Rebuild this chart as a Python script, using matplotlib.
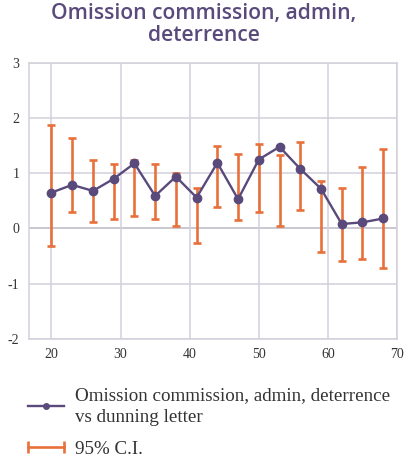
import matplotlib
matplotlib.use("Agg")
import matplotlib.pyplot as plt
from matplotlib.lines import Line2D
from matplotlib.legend_handler import HandlerLine2D
import numpy as np

# Age groups and estimated effects
ages = [20, 23, 26, 29, 32, 35, 38, 41, 44, 47, 50, 53, 56, 59, 62, 65, 68]
effect = [0.65, 0.79, 0.68, 0.90, 1.18, 0.59, 0.94, 0.56, 1.19, 0.53, 1.25,
          1.48, 1.08, 0.72, 0.08, 0.11, 0.18]
ci_low = [-0.32, 0.30, 0.12, 0.17, 0.23, 0.17, 0.05, -0.26, 0.39, 0.15, 0.30,
          0.05, 0.34, -0.42, -0.59, -0.55, -0.72]
ci_high = [1.88, 1.64, 1.25, 1.17, 1.25, 1.17, 1.00, 0.74, 1.50, 1.35, 1.53,
           1.34, 1.57, 0.86, 0.74, 1.11, 1.44]

x_ticks = [20, 30, 40, 50, 60, 70]
y_ticks = [-2, -1, 0, 1, 2, 3]

title = "Omission commission, admin,\ndeterrence"
series_label = "Omission commission, admin, deterrence\nvs dunning letter"
ci_label = "95% C.I."

purple = "#5a4a7c"
orange = "#e8703a"
grid_c = "#d3d0db"
zero_c = "#9d93aa"
text_c = "#333333"

fig = plt.figure(figsize=(4.08, 4.57), dpi=100)
ax = fig.add_axes([0.0711, 0.259, 0.902, 0.603])

lo = np.array(ci_low)
hi = np.array(ci_high)
mid = (lo + hi) / 2
half = (hi - lo) / 2

ax.errorbar(ages, mid, yerr=half, fmt="none", ecolor=orange, elinewidth=1.9,
            capsize=3.2, capthick=1.9, zorder=3)
ax.plot(ages, effect, color=purple, lw=1.7, marker="o", ms=6, zorder=4)

ax.set_xlim(16.75, 70)
ax.set_ylim(-2, 3)
ax.set_xticks(x_ticks)
ax.set_yticks(y_ticks)
ax.set_yticklabels([str(v) for v in y_ticks])
ax.grid(True, color=grid_c, lw=1.1, zorder=0)
ax.axhline(0, color=zero_c, lw=1.1, zorder=1)
for s in ax.spines.values():
    s.set_color(grid_c)
    s.set_linewidth(1.1)
ax.tick_params(length=0, labelsize=10, labelcolor=text_c, pad=7)
for lab in ax.get_xticklabels() + ax.get_yticklabels():
    lab.set_family("Liberation Serif")

fig.text(0.5, 0.946, title, ha="center", va="center", fontsize=15.2,
         family="Open Sans", weight="semibold", color=purple, linespacing=1.1)

h_series = Line2D([0], [0], color=purple, lw=1.7, marker="o", ms=4)
h_ci = Line2D([0], [0], color=orange, lw=1.9, marker="|", ms=8, mew=1.9)
leg = fig.legend([h_series, h_ci], [series_label, ci_label],
                 handler_map={h_series: HandlerLine2D(numpoints=1),
                              h_ci: HandlerLine2D(numpoints=2, marker_pad=0)},
                 loc="upper left", bbox_to_anchor=(0.026, 0.191),
                 frameon=False, handlelength=1.9, handletextpad=0.6,
                 labelspacing=0.75, prop={"family": "Liberation Serif", "size": 13.7})
for t in leg.get_texts():
    t.set_color(text_c)
    t.set_linespacing(1.4)

fig.savefig("out.png", dpi=100)
